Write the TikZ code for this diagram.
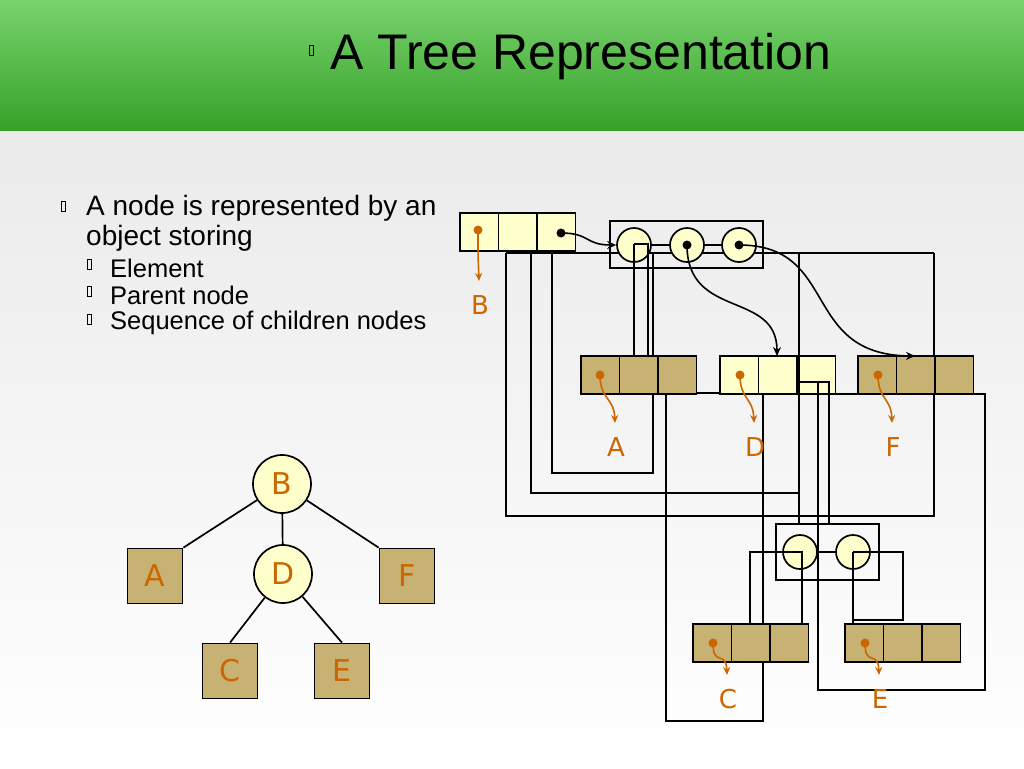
\documentclass[tikz,border=0pt]{standalone}
\usepackage{fontspec}
\setmainfont{Liberation Sans}
\newfontfamily\treefont{DejaVu Sans}
\usetikzlibrary{arrows.meta,calc}
\definecolor{cellyellow}{HTML}{FFFFCC}
\definecolor{celltan}{HTML}{C8B273}
\definecolor{elemorange}{HTML}{CC6600}
\definecolor{bandgreen}{HTML}{3FBF2F}
\tikzset{
  wire/.style={black,line width=1.7pt},
  elemarrow/.style={elemorange,line width=1.6pt,-{Stealth[length=8pt,width=7pt]}},
  ptrarrow/.style={black,line width=1.6pt,-{Stealth[length=9pt,width=8pt]}},
  elemlabel/.style={elemorange,font=\treefont\fontsize{26}{26}\selectfont},
  seqcircle/.style={circle,draw,line width=1.7pt,fill=cellyellow,minimum size=34pt,inner sep=0pt},
  bulletbox/.style={draw,line width=0.5pt,minimum width=4pt,minimum height=10pt,inner sep=0pt}
}
% one record of three cells: #1 name, #2 left x, #3 top y, #4 fill
\newcommand{\recordcells}[4]{%
  \foreach \k in {0,1,2}{%
    \draw[wire,fill=#4] ($(#2,#3)+(\k*38.5,0)$) rectangle ++(38.5,38);}
  \coordinate (#1) at (#2,#3);}
\begin{document}
\begin{tikzpicture}[x=1pt,y=-1pt]
\useasboundingbox (0,0) rectangle (1024,768);
% background
\shade[top color=white!92!black,bottom color=white] (0,130) rectangle (1024,768);
\shade[top color=bandgreen!70!white,bottom color=bandgreen!85!black] (0,0) rectangle (1024,130);
% title
\node[bulletbox] (tb) at (311,50) {};
\node[anchor=west,font=\fontsize{50}{50}\selectfont,inner sep=0pt] (title) at (330,57) {A Tree Representation};
% bullets
\node[bulletbox] (b1) at (63,206) {};
\node[anchor=north west,align=left,font=\fontsize{28}{30}\selectfont,inner sep=0pt] (t1) at (86,195) {A node is represented by an\\object storing};
\foreach \ty/\tx [count=\i] in {268/Element,295/Parent node,323/Sequence of children nodes}{
  \node[bulletbox] (sb\i) at (89,\ty-4) {};
  \node[anchor=west,font=\fontsize{25.5}{26}\selectfont,inner sep=0pt] (st\i) at (110,\ty) {\tx};
}
% small tree
\begin{scope}[every node/.style={draw,line width=1.7pt,font=\treefont\fontsize{30}{30}\selectfont,text=elemorange,inner sep=0pt}]
\node[circle,fill=cellyellow,minimum size=58pt] (nB) at (282,484) {B};
\node[circle,fill=cellyellow,minimum size=58pt] (nD) at (283,574) {D};
\node[fill=celltan,minimum size=55pt] (nA) at (155,576) {A};
\node[fill=celltan,minimum size=55pt] (nF) at (407,576) {F};
\node[fill=celltan,minimum size=55pt] (nC) at (230,671) {C};
\node[fill=celltan,minimum size=55pt] (nE) at (342,671) {E};
\end{scope}
\draw[wire] (nB) -- (nA.north east);
\draw[wire] (nB) -- (nD);
\draw[wire] (nB) -- (nF.north west);
\draw[wire] (nD) -- (nC.north);
\draw[wire] (nD) -- (nE.north);
% wiring of the linked structure
\draw[wire] (506,253) -- (934,253);
\draw[wire] (506,253) |- (934,516) -- (934,253);
\draw[wire] (531,253) |- (799,493);
\draw[wire] (552,253) |- (653,473) -- (653,253);
\draw[wire] (634,356) -- (634,244) -- (648,244) -- (648,356);
\draw[wire] (666,393) rectangle (763,721);
\draw[wire] (818,382) -- (818,690) -- (985,690) -- (985,394) -- (836,394);
\draw[wire] (750,623) |- (802,552) -- (802,623);
\draw[line width=2.6pt] (853,623) -- (853,552);
\draw[wire] (853,552) -- (903,552) -- (903,620) -- (853,620);
% records
\recordcells{recB}{460}{213}{cellyellow}
\recordcells{recA}{581}{356}{celltan}
\recordcells{recD}{720}{356}{cellyellow}
\recordcells{recF}{858}{356}{celltan}
\recordcells{recC}{693}{624}{celltan}
\recordcells{recE}{845}{624}{celltan}
\draw[wire] (799,382) -- (829,382) -- (829,524);
\draw[wire] (818,382) -- (818,394);
\draw[line width=2.6pt] (799,253) -- (799,524);
\draw[line width=2.6pt] (666,394) -- (696,394);
\draw[line width=2.6pt] (720,394) -- (763,394);
% sequences
\draw[wire] (610,221) rectangle (763,268);
\node[seqcircle] (s1) at (634,245) {};
\node[seqcircle] (s2) at (687,245) {};
\node[seqcircle] (s3) at (739,245) {};
\draw[wire] (s1) -- (s2) -- (s3);
\draw[wire] (634,244) -- (648,244) -- (648,268);
\draw[wire] (634,244) -- (634,268);
\draw[wire] (776,524) rectangle (879,580);
\node[seqcircle] (u1) at (800,552) {};
\node[seqcircle] (u2) at (853,552) {};
\draw[wire] (u1) -- (u2);
\draw[wire] (776,552) -- (802,552) -- (802,580);
\draw[line width=2.6pt] (853,552) -- (853,580);
\draw[wire] (853,552) -- (879,552);
% element pointers
\foreach \nm/\dx/\dy/\lx/\ly in {B/478/230/480/305,A/600/375/616/447,D/740/375/755/447,F/878/375/893/447,C/713/643/728/699,E/865/643/880/699}{
  \fill[elemorange] (\dx,\dy) circle (4.5pt);
  \node[elemlabel] (e\nm) at (\lx,\ly) {\nm};
  \draw[elemarrow] (\dx,\dy) .. controls (\dx,\dy+25) and (\lx-2,\ly-50) .. (\lx-1,\ly-24);
}
% children pointers
\fill (561,233) circle (4.5pt);
\draw[ptrarrow] (561,233) .. controls (590,233) and (585,245) .. (s1.west);
\fill (s2) circle (4.5pt);
\draw[ptrarrow] (s2.center) .. controls (687,320) and (777,290) .. (777,356);
\fill (s3) circle (4.5pt);
\draw[ptrarrow] (s3.center) .. controls (840,245) and (800,355) .. (915,356);
\end{tikzpicture}
\end{document}
